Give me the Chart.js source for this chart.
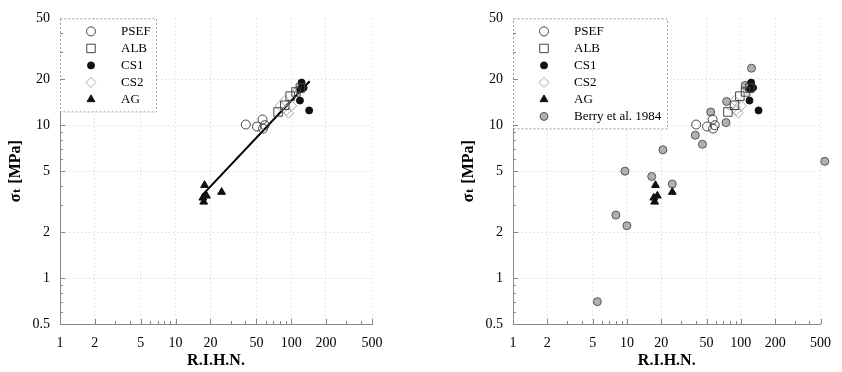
<!DOCTYPE html>
<html lang="en">
<head>
<meta charset="UTF-8" />
<title>Tensile strength vs R.I.H.N.</title>
<script src="https://cdn.jsdelivr.net/npm/chart.js"></script>
<style>
    body { margin: 0; background: #fff; }
    .wrap { display: flex; width: 842px; height: 372px; }
    .panel { width: 421px; height: 372px; }
</style>
</head>
<body>
<div class="wrap">
    <div class="panel"><canvas id="leftChart" width="421" height="372"></canvas></div>
    <div class="panel"><canvas id="rightChart" width="421" height="372"></canvas></div>
</div>
<script>
// axis ticks
const xTicks = [1, 2, 5, 10, 20, 50, 100, 200, 500];
const yTicks = [0.5, 1, 2, 5, 10, 20, 50];

// series (R.I.H.N., sigma_t in MPa)
const psefX = [40.5, 50.5, 56.5, 59, 57];
const psefY = [10.1, 9.8, 10.9, 10.0, 9.5];
const albX = [77, 88, 98, 110, 120];
const albY = [12.2, 13.5, 15.5, 16.5, 17.5];
const cs1X = [119, 143, 123, 128, 120];
const cs1Y = [14.5, 12.5, 19.0, 17.6, 17.2];
const cs2X = [80, 88, 91, 101, 95, 115];
const cs2Y = [13.4, 14.5, 12.5, 13.4, 12.0, 17.0];
const agX = [17.8, 18.5, 17.5, 17.2, 25];
const agY = [4.05, 3.45, 3.15, 3.35, 3.65];
const berryX = [5.5, 8.0, 10.0, 9.6, 16.5, 20.7, 25.0, 39.8, 46, 54.4, 74, 75, 109, 124, 545];
const berryY = [0.70, 2.58, 2.2, 5.0, 4.62, 6.9, 4.12, 8.6, 7.5, 12.2, 10.4, 14.3, 18.2, 23.6, 5.8];
// fitted line end points (left panel)
const fitX = [17.1, 144.5];
const fitY = [3.5, 19.4];

const FONT = '"Liberation Serif", "DejaVu Serif", serif';
const GRID = "#cfcfcf";

function pts(xs, ys) {
    return xs.map((x, i) => ({ x: x, y: ys[i] }));
}

function baseSets() {
    return [
        { label: "PSEF", data: pts(psefX, psefY), pointStyle: "circle", pointRadius: 4.5,
          backgroundColor: "rgba(255,255,255,0)", borderColor: "#444", borderWidth: 1 },
        { label: "ALB", data: pts(albX, albY), pointStyle: "rect", pointRadius: 6,
          backgroundColor: "rgba(255,255,255,0)", borderColor: "#444", borderWidth: 1 },
        { label: "CS1", data: pts(cs1X, cs1Y), pointStyle: "circle", pointRadius: 3.5,
          backgroundColor: "#111", borderColor: "#111", borderWidth: 1 },
        { label: "CS2", data: pts(cs2X, cs2Y), pointStyle: "rectRot", pointRadius: 5,
          backgroundColor: "rgba(255,255,255,0)", borderColor: "#aaa", borderWidth: 1 },
        { label: "AG", data: pts(agX, agY), pointStyle: "triangle", pointRadius: 4.5,
          backgroundColor: "#111", borderColor: "#111", borderWidth: 1 },
    ];
}

// dotted legend box in the top-left corner of the plot area
const boxLegend = {
    id: "boxLegend",
    beforeDatasetsDraw(chart, args, opts) {
        const ctx = chart.ctx;
        const a = chart.chartArea;
        const items = chart.data.datasets.filter((d) => d.label);
        const h = 17 * items.length + 8;
        ctx.save();
        ctx.fillStyle = "#fff";
        ctx.fillRect(a.left, a.top, opts.width, h);
        ctx.setLineDash([2, 2]);
        ctx.strokeStyle = "#999";
        ctx.lineWidth = 1;
        ctx.strokeRect(a.left + 0.5, a.top + 0.5, opts.width, h);
        ctx.setLineDash([]);
        items.forEach((d, i) => {
            const y = a.top + 13 + i * 17;
            ctx.fillStyle = d.backgroundColor;
            ctx.strokeStyle = d.borderColor;
            ctx.lineWidth = d.borderWidth;
            Chart.helpers.drawPoint(ctx, { pointStyle: d.pointStyle, radius: d.pointRadius,
                borderWidth: d.borderWidth, rotation: 0 }, a.left + 31, y);
            ctx.fillStyle = "#000";
            ctx.font = "13px " + FONT;
            ctx.textBaseline = "middle";
            ctx.textAlign = "left";
            ctx.fillText(d.label, a.left + 61, y);
        });
        ctx.restore();
    },
};

// small inward minor ticks on the log axes
const minorTicks = {
    id: "minorTicks",
    afterDraw(chart) {
        const { ctx, chartArea: a, scales: { x, y } } = chart;
        ctx.save();
        ctx.strokeStyle = "#888";
        ctx.lineWidth = 1;
        ctx.beginPath();
        [1, 10, 100].forEach((d) => {
            for (let m = 1; m < 10; m++) {
                const v = d * m;
                if (v <= x.min || v > x.max) continue;
                const px = Math.round(x.getPixelForValue(v)) + 0.5;
                ctx.moveTo(px, a.bottom);
                ctx.lineTo(px, a.bottom - (xTicks.includes(v) ? 5 : 3));
            }
        });
        [0.1, 1, 10].forEach((d) => {
            for (let m = 1; m < 10; m++) {
                const v = +(d * m).toFixed(2);
                if (v <= y.min || v >= y.max) continue;
                const py = Math.round(y.getPixelForValue(v)) + 0.5;
                ctx.moveTo(a.left, py);
                ctx.lineTo(a.left + (yTicks.includes(v) ? 5 : 3), py);
            }
        });
        ctx.stroke();
        ctx.restore();
    },
};

function makeChart(id, datasets, padLeft, padRight, legendWidth) {
    const ctx = document.getElementById(id).getContext("2d");
    return new Chart(ctx, {
        type: "scatter",
        data: { datasets: datasets },
        options: {
            responsive: false,
            animation: false,
            layout: { padding: { left: padLeft, right: padRight, top: 13, bottom: 0 } },
            plugins: {
                legend: { display: false },
                tooltip: { enabled: false },
                boxLegend: { width: legendWidth },
            },
            scales: {
                x: {
                    type: "logarithmic",
                    min: 1,
                    max: 500,
                    afterBuildTicks: (s) => { s.ticks = xTicks.map((v) => ({ value: v })); },
                    afterFit: (s) => { s.height = 48; },
                    ticks: {
                        color: "#000",
                        font: { family: FONT, size: 14 },
                        padding: 11,
                        maxRotation: 0,
                        autoSkip: false,
                        callback: (v) => String(v),
                    },
                    grid: {
                        drawTicks: false,
                        color: (c) => (c.tick && c.tick.value === 1 ? "rgba(0,0,0,0)" : GRID),
                    },
                    border: { color: "#888", dash: [1, 3] },
                    title: {
                        display: true,
                        text: "R.I.H.N.",
                        color: "#000",
                        font: { family: FONT, size: 16, weight: "bold" },
                        padding: { top: 0, bottom: 2 },
                    },
                },
                y: {
                    type: "logarithmic",
                    min: 0.5,
                    max: 50,
                    afterBuildTicks: (s) => { s.ticks = yTicks.map((v) => ({ value: v })); },
                    afterFit: (s) => { s.width = 60; },
                    ticks: {
                        color: "#000",
                        font: { family: FONT, size: 14 },
                        padding: 10,
                        autoSkip: false,
                        callback: (v) => String(v),
                    },
                    grid: {
                        drawTicks: false,
                        color: (c) => (c.tick && (c.tick.value === 0.5 || c.tick.value === 50) ? "rgba(0,0,0,0)" : GRID),
                    },
                    border: { color: "#888", dash: [1, 3] },
                    title: {
                        display: true,
                        text: "σₜ [MPa]",
                        color: "#000",
                        font: { family: FONT, size: 16, weight: "bold" },
                        padding: { top: 6, bottom: 0 },
                    },
                },
            },
        },
        plugins: [boxLegend, minorTicks],
    });
}

const leftSets = baseSets();
leftSets.push({
    type: "line",
    label: "",
    data: pts(fitX, fitY),
    borderColor: "#000",
    borderWidth: 2,
    pointRadius: 0,
    showLine: true,
});
makeChart("leftChart", leftSets, 0, 49, 96);

const rightSets = baseSets();
rightSets.push({
    label: "Berry et al. 1984",
    data: pts(berryX, berryY),
    pointStyle: "circle",
    pointRadius: 4,
    backgroundColor: "#b0b0b0",
    borderColor: "#555",
    borderWidth: 1,
    clip: false,
});
makeChart("rightChart", rightSets, 32, 15, 154);
</script>
</body>
</html>
